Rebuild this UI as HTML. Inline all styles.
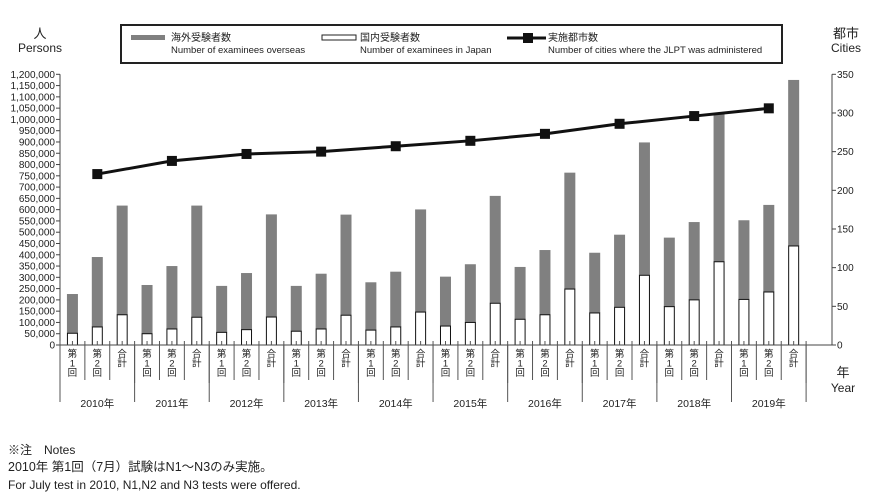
<!DOCTYPE html>
<html><head><meta charset="utf-8">
<style>
body{margin:0;background:#fff;}
svg{display:block;font-family:"Liberation Sans","Noto Sans CJK JP",sans-serif;}
</style></head>
<body>
<svg id="chart" width="869" height="503" viewBox="0 0 869 503">
<g id="legend">
<rect x="121" y="25" width="661" height="38" fill="#fff" stroke="#222" stroke-width="2"/>
<rect x="131" y="35" width="34" height="5" fill="#808080"/>
<text x="171" y="41" font-size="10" fill="#222">海外受験者数</text>
<text x="171" y="53" font-size="9.5" fill="#222">Number of examinees overseas</text>
<rect x="322" y="35" width="34" height="5" fill="#fff" stroke="#222" stroke-width="1"/>
<text x="360" y="41" font-size="10" fill="#222">国内受験者数</text>
<text x="360" y="53" font-size="9.5" fill="#222">Number of examinees in Japan</text>
<line x1="507" y1="38" x2="546" y2="38" stroke="#111" stroke-width="3"/>
<rect x="523" y="33" width="10" height="10" fill="#111"/>
<text x="548" y="41" font-size="10" fill="#222">実施都市数</text>
<text x="548" y="53" font-size="9.5" fill="#222">Number of cities where the JLPT was administered</text>
</g>
<text x="40" y="38" font-size="13" text-anchor="middle" fill="#222">人</text>
<text x="40" y="52" font-size="12" text-anchor="middle" fill="#222">Persons</text>
<text x="846" y="38" font-size="13" text-anchor="middle" fill="#222">都市</text>
<text x="846" y="52" font-size="12" text-anchor="middle" fill="#222">Cities</text>
<text x="843" y="377" font-size="13" text-anchor="middle" fill="#222">年</text>
<text x="843" y="392" font-size="12" text-anchor="middle" fill="#222">Year</text>
<g id="notes" fill="#222">
<text x="8" y="454" font-size="12">※注　Notes</text>
<text x="8" y="471" font-size="12.5">2010年 第1回（7月）試験はN1～N3のみ実施。</text>
<text x="8" y="489" font-size="12">For July test in 2010, N1,N2 and N3 tests were offered.</text>
</g>
<g id="plot"></g>
</svg>
<script>
const years = ["2010","2011","2012","2013","2014","2015","2016","2017","2018","2019"];
const sessionLabels = [["第","1","回"],["第","2","回"],["合","計"]];
const totalExaminees = [226,390,618, 266,350,618, 262,319,579, 262,316,578, 278,325,601, 303,358,661, 346,421,764, 409,489,898, 476,545,1027, 553,621,1175];
const domesticExaminees = [52,80,134, 50,71,123, 56,68,124, 61,71,132, 66,80,146, 84,100,185, 114,134,248, 142,167,309, 170,200,369, 202,235,439];
const cities = [221,238,247,250,257,264,273,286,296,306];
const leftTicks = [0,50,100,150,200,250,300,350,400,450,500,550,600,650,700,750,800,850,900,950,1000,1050,1100,1150,1200];
const rightTicks = [0,50,100,150,200,250,300,350];

const NS="http://www.w3.org/2000/svg";
const g=document.getElementById('plot');
const X0=60, CW=24.87, Y0=345, YT=74.3, XR=832;
const yL=v=>Y0-(v/1200)*(Y0-YT);
const yR=v=>Y0-(v/350)*(Y0-YT);
const xC=i=>X0+CW*(i+0.5);
function mk(tag,attrs){const e=document.createElementNS(NS,tag);for(const k in attrs)e.setAttribute(k,attrs[k]);g.appendChild(e);return e;}

// bars
totalExaminees.forEach((t,i)=>{
  const d=domesticExaminees[i];
  const b=mk('rect',{x:xC(i)-5.5,y:yL(t),width:11,height:yL(d)-yL(t),fill:'#808080'});
  
  
  const w=mk('rect',{x:xC(i)-5,y:yL(d),width:10,height:Y0-yL(d),fill:'#fff',stroke:'#111','stroke-width':1});
  
  
});
// axes
const la=mk('line',{x1:X0,y1:YT,x2:X0,y2:Y0,stroke:'#444','stroke-width':1});


const ra=mk('line',{x1:XR,y1:YT,x2:XR,y2:Y0,stroke:'#444','stroke-width':1});


const xa=mk('line',{x1:X0,y1:Y0,x2:XR,y2:Y0,stroke:'#444','stroke-width':1});


leftTicks.forEach(v=>{
  mk('line',{x1:X0-4,y1:yL(v),x2:X0,y2:yL(v),stroke:'#444'});
  const t=mk('text',{x:X0-5,y:yL(v)+3.5,'font-size':10,'text-anchor':'end',fill:'#222'});
  t.textContent=v===0?'0':(v*1000).toLocaleString('en-US');
  
  
});
rightTicks.forEach(v=>{
  mk('line',{x1:XR,y1:yR(v),x2:XR+4,y2:yR(v),stroke:'#444'});
  const t=mk('text',{x:XR+5,y:yR(v)+3.5,'font-size':10,fill:'#222'});
  t.textContent=v;
  
  
});
// category cells
for(let i=0;i<=30;i++){
  const x=X0+CW*i;
  const isYear=i%3===0;
  mk('line',{x1:x,y1:Y0-4,x2:x,y2:isYear?383:380,stroke:'#555'});
  if(isYear) mk('line',{x1:x,y1:Y0,x2:x,y2:402,stroke:'#555'});
  if(i<30) mk('line',{x1:x+CW/2,y1:Y0-4,x2:x+CW/2,y2:Y0,stroke:'#555'});
}
for(let i=0;i<30;i++){
  const lab=sessionLabels[i%3];
  lab.forEach((c,k)=>{
    const t=mk('text',{x:xC(i),y:357+k*9.5,'font-size':9.5,'text-anchor':'middle',fill:'#222'});
    t.textContent=c;
    
    
  });
}
years.forEach((y,j)=>{
  const t=mk('text',{x:X0+CW*(3*j+1.5),y:407,'font-size':10.5,'text-anchor':'middle',fill:'#222'});
  t.textContent=y+'年';
  
  
});
// cities line
const pts=cities.map((c,j)=>[xC(3*j+1),yR(c)]);
const pl=mk('polyline',{points:pts.map(p=>p.join(',')).join(' '),fill:'none',stroke:'#111','stroke-width':3});


pts.forEach(p=>{
  const m=mk('rect',{x:p[0]-5,y:p[1]-5,width:10,height:10,fill:'#111'});
  
  
});
</script>
</body></html>
